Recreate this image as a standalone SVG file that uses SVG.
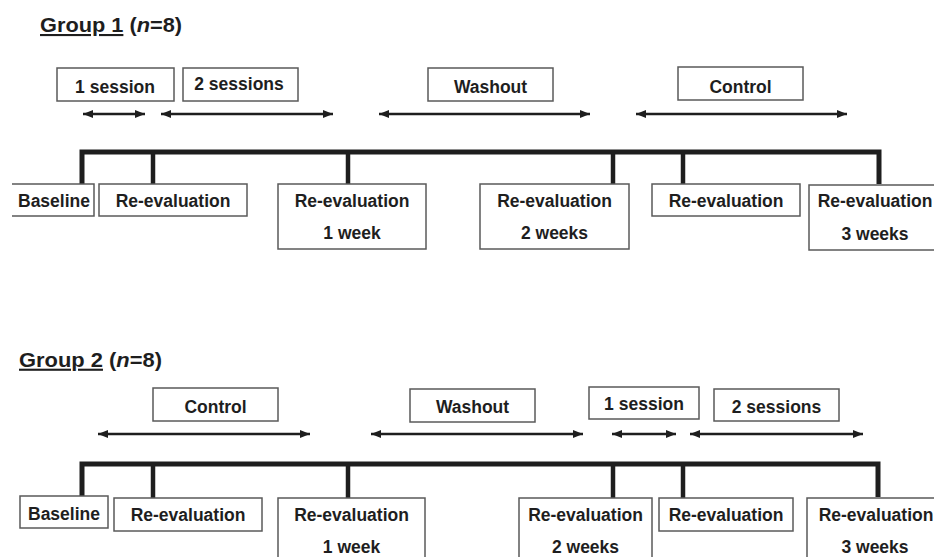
<svg xmlns="http://www.w3.org/2000/svg" width="934" height="557" viewBox="0 0 934 557">
<defs>
<marker id="ah" markerUnits="userSpaceOnUse" markerWidth="10" markerHeight="8" refX="10" refY="4" orient="auto-start-reverse">
<path d="M0,0 L10,4 L0,8 z" fill="#1e1e1e"/>
</marker>
<style>
.box{fill:#fff;stroke:#5a5a5a;stroke-width:1.5}
.t{font-family:"Liberation Sans",Arial,sans-serif;font-weight:bold;font-size:17.5px;fill:#1e1e1e;text-anchor:middle}
.title{font-family:"Liberation Sans",Arial,sans-serif;font-weight:bold;font-size:21px;fill:#1e1e1e}
.arr{stroke:#1e1e1e;stroke-width:2.5;fill:none;marker-start:url(#ah);marker-end:url(#ah)}
.tl{stroke:#1e1e1e;stroke-width:5;fill:none;stroke-linejoin:miter}
.tick{stroke:#1e1e1e;stroke-width:4.5;fill:none}
</style>
</defs>
<rect width="934" height="557" fill="#fff"/>

<g id="title1"><text class="title" x="40" y="32" textLength="142" lengthAdjust="spacingAndGlyphs"><tspan text-decoration="underline">Group 1</tspan> (<tspan font-style="italic">n</tspan>=8)</text></g>
<g id="title2"><text class="title" x="19" y="366.7" textLength="143" lengthAdjust="spacingAndGlyphs"><tspan text-decoration="underline">Group 2</tspan> (<tspan font-style="italic">n</tspan>=8)</text></g>

<g id="connectors">
<!-- Group 1 timeline -->
<path class="tl" d="M82,184 V152 H879 V184"/>
<line class="tick" x1="153" y1="152" x2="153" y2="184"/>
<line class="tick" x1="348" y1="152" x2="348" y2="184"/>
<line class="tick" x1="613" y1="152" x2="613" y2="184"/>
<line class="tick" x1="683" y1="152" x2="683" y2="184"/>
<!-- Group 1 arrows -->
<line class="arr" x1="83" y1="114" x2="145" y2="114"/>
<line class="arr" x1="161" y1="114" x2="333" y2="114"/>
<line class="arr" x1="379" y1="114" x2="590" y2="114"/>
<line class="arr" x1="636" y1="114" x2="847" y2="114"/>
<!-- Group 2 timeline -->
<path class="tl" d="M82,497 V464 H878 V497"/>
<line class="tick" x1="153" y1="464" x2="153" y2="498"/>
<line class="tick" x1="348" y1="464" x2="348" y2="498"/>
<line class="tick" x1="613" y1="464" x2="613" y2="498"/>
<line class="tick" x1="683" y1="464" x2="683" y2="498"/>
<!-- Group 2 arrows -->
<line class="arr" x1="98" y1="434" x2="310" y2="434"/>
<line class="arr" x1="371" y1="434" x2="583" y2="434"/>
<line class="arr" x1="612" y1="434" x2="676" y2="434"/>
<line class="arr" x1="690" y1="434" x2="863" y2="434"/>
</g>

<!-- Group 1 period labels -->
<g id="g1-1session"><rect class="box" x="57" y="68" width="117" height="33"/><text class="t" x="115" y="93">1 session</text></g>
<g id="g1-2sessions"><rect class="box" x="183" y="68" width="115" height="33"/><text class="t" x="239" y="89.5">2 sessions</text></g>
<g id="g1-washout"><rect class="box" x="428" y="68" width="125" height="33"/><text class="t" x="490.5" y="93">Washout</text></g>
<g id="g1-control"><rect class="box" x="678" y="67" width="125" height="33"/><text class="t" x="740.5" y="93">Control</text></g>

<!-- Group 1 evaluations -->
<g id="g1-baseline"><path class="box" d="M12,184 H94 V216 H12"/><text class="t" x="54" y="206.5">Baseline</text></g>
<g id="g1-reeval0"><rect class="box" x="99" y="184" width="148" height="32"/><text class="t" x="173" y="206.5">Re-evaluation</text></g>
<g id="g1-reeval1w"><rect class="box" x="278" y="184" width="148" height="65"/><text class="t" x="352" y="206.5">Re-evaluation</text><text class="t" x="352" y="239">1 week</text></g>
<g id="g1-reeval2w"><rect class="box" x="480" y="184" width="149" height="65"/><text class="t" x="554.5" y="206.5">Re-evaluation</text><text class="t" x="554.5" y="239">2 weeks</text></g>
<g id="g1-reeval"><rect class="box" x="652" y="184" width="148" height="32"/><text class="t" x="726" y="206.5">Re-evaluation</text></g>
<g id="g1-reeval3w"><rect class="box" x="809" y="185" width="135" height="65"/><text class="t" x="875" y="207">Re-evaluation</text><text class="t" x="875" y="240">3 weeks</text></g>

<!-- Group 2 period labels -->
<g id="g2-control"><rect class="box" x="153" y="388" width="125" height="33"/><text class="t" x="215.5" y="412.7">Control</text></g>
<g id="g2-washout"><rect class="box" x="410" y="389" width="125" height="33"/><text class="t" x="472.5" y="413">Washout</text></g>
<g id="g2-1session"><rect class="box" x="589" y="387" width="110" height="32"/><text class="t" x="644" y="410">1 session</text></g>
<g id="g2-2sessions"><rect class="box" x="714" y="389" width="125" height="32"/><text class="t" x="776.5" y="412.7">2 sessions</text></g>

<!-- Group 2 evaluations -->
<g id="g2-baseline"><rect class="box" x="20" y="496" width="88" height="32"/><text class="t" x="64" y="520">Baseline</text></g>
<g id="g2-reeval0"><rect class="box" x="114" y="498" width="148" height="33"/><text class="t" x="188" y="521">Re-evaluation</text></g>
<g id="g2-reeval1w"><rect class="box" x="278" y="498" width="147" height="66"/><text class="t" x="351.5" y="521">Re-evaluation</text><text class="t" x="351.5" y="552.7">1 week</text></g>
<g id="g2-reeval2w"><rect class="box" x="519" y="498" width="133" height="66"/><text class="t" x="585.5" y="521">Re-evaluation</text><text class="t" x="585.5" y="552.7">2 weeks</text></g>
<g id="g2-reeval"><rect class="box" x="659" y="498" width="134" height="33"/><text class="t" x="726" y="521">Re-evaluation</text></g>
<g id="g2-reeval3w"><rect class="box" x="807" y="498" width="137" height="66"/><text class="t" x="876" y="521">Re-evaluation</text><text class="t" x="875" y="552.7">3 weeks</text></g>
</svg>
